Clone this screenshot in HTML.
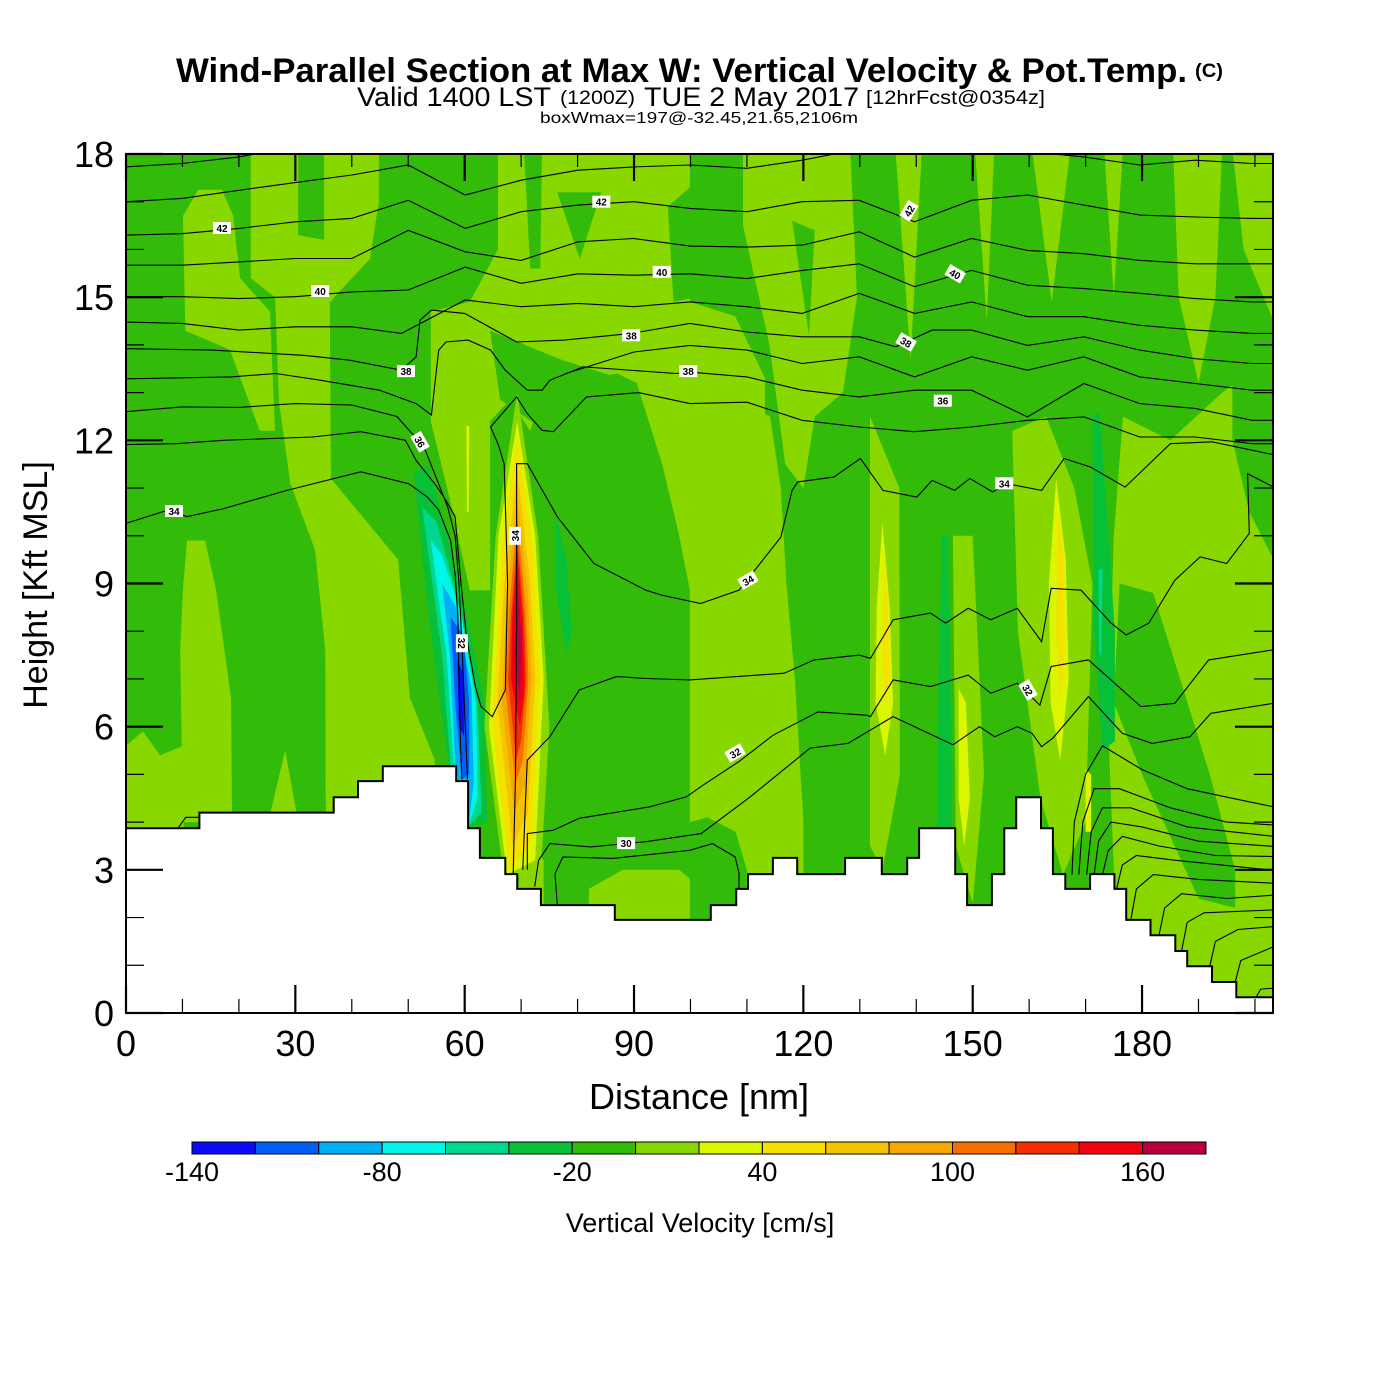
<!DOCTYPE html>
<html><head><meta charset="utf-8"><title>Wind-Parallel Section</title>
<style>
html,body{margin:0;padding:0;background:#fff;}
svg{display:block;font-family:"Liberation Sans",Arial,sans-serif;}
</style></head>
<body>
<svg id="chart" width="1400" height="1400" viewBox="0 0 1400 1400" xmlns="http://www.w3.org/2000/svg">
<rect x="0" y="0" width="1400" height="1400" fill="#fff"/>
<g>
<text x="176" y="82" font-size="34" font-weight="bold" textLength="1011" lengthAdjust="spacingAndGlyphs">Wind-Parallel Section at Max W: Vertical Velocity &amp; Pot.Temp.</text>
<text x="1195" y="77" font-size="19" font-weight="bold" textLength="28" lengthAdjust="spacingAndGlyphs">(C)</text>
<text x="357" y="106" font-size="27" textLength="194" lengthAdjust="spacingAndGlyphs">Valid 1400 LST</text>
<text x="560" y="104" font-size="19" textLength="75" lengthAdjust="spacingAndGlyphs">(1200Z)</text>
<text x="644" y="106" font-size="27" textLength="215" lengthAdjust="spacingAndGlyphs">TUE 2 May 2017</text>
<text x="866" y="104" font-size="19" textLength="179" lengthAdjust="spacingAndGlyphs">[12hrFcst@0354z]</text>
<text x="540" y="123" font-size="16" textLength="318" lengthAdjust="spacingAndGlyphs">boxWmax=197@-32.45,21.65,2106m</text>
</g>
<defs><clipPath id="plotclip"><rect x="126" y="154" width="1147" height="859"/></clipPath></defs>
<g id="field" clip-path="url(#plotclip)"></g>
<g id="contours" clip-path="url(#plotclip)"></g>
<g id="terrain"></g>
<g id="labels"></g>
<g id="axes"></g>
<g id="colorbar"></g>
</svg>
<script>
// ---------- data ----------
const palette = ["#0a0af5","#0060f5","#00b0f5","#00f5e6","#00d890","#08c038","#33bb0a","#88d800","#dcf500","#f5e000","#f5c400","#f5a800","#f57000","#f53000","#f00010","#b80040"];
const colorbarTicks = [-140,-80,-20,40,100,160];
const xTicks = [0,30,60,90,120,150,180];
const yTicks = [0,3,6,9,12,15,18];
const terrainSteps = [[0,13.0,3.87],[13.0,36.8,4.2],[36.8,41.1,4.52],[41.1,45.5,4.86],[45.5,58.5,5.17],[58.5,60.6,4.86],[60.6,62.7,3.87],[62.7,67.2,3.25],[67.2,69.3,2.91],[69.3,73.5,2.6],[73.5,86.6,2.26],[86.6,103.6,1.95],[103.6,108.1,2.26],[108.1,110.2,2.6],[110.2,114.6,2.91],[114.6,118.9,3.25],[118.9,127.4,2.91],[127.4,133.9,3.25],[133.9,138.4,2.91],[138.4,140.5,3.25],[140.5,146.9,3.87],[146.9,149.0,2.91],[149.0,153.4,2.26],[153.4,155.6,2.91],[155.6,157.7,3.87],[157.7,162.1,4.52],[162.1,164.2,3.87],[164.2,166.4,2.91],[166.4,170.8,2.6],[170.8,175.1,2.91],[175.1,177.2,2.6],[177.2,181.5,1.95],[181.5,185.9,1.63],[185.9,188.0,1.3],[188.0,192.4,0.98],[192.4,196.7,0.65],[196.7,203.2,0.33]];
const fieldLight = [
 [[12.8,17.25],[17.0,17.25],[19.0,16.7],[20.2,15.4],[25.5,14.7],[26.4,12.2],[23.7,12.2],[18.4,13.9],[10.5,14.3],[10.1,16.7]],
 [[10.8,9.9],[14.0,9.9],[15.9,8.9],[18.6,6.6],[18.8,4.0],[10.1,4.0],[9.6,7.6],[10.1,8.9]],
 [[0,5.6],[3,5.9],[6,5.4],[10.2,5.6],[10.2,3.5],[0,3.5]],
 [[25.2,4.0],[28.2,5.5],[30.5,4.0]],
 [[22.1,18.1],[30.5,18.1],[30.5,16.3],[35.1,16.2],[35.1,18.1],[44.8,18.1],[44.8,17.0],[43.2,15.8],[36.1,14.9],[36.3,11.2],[48.2,9.5],[50.3,6.6],[54.7,5.3],[54.7,4.0],[35.4,4.0],[35.3,7.6],[33.5,9.7],[29.1,11.1],[27.1,12.8],[26.4,15.0],[22.1,15.4]],
 [[65.9,18.1],[99.9,18.1],[99.9,14.9],[107.9,14.6],[113.2,13.3],[113.2,8.86],[99.9,8.86],[98,10],[95,11.5],[90.5,13.2],[87,13.4],[82.2,13.3],[76.9,13.5],[73.4,12.85],[71.6,12.2],[68.0,12.85],[64.5,12.4],[64.5,8.86],[60.9,8.86],[57.4,10.75],[54.0,12.4],[54.0,14.7],[60.9,14.9],[65.9,16]],
 [[109.3,18.1],[128.3,18.1],[129.5,15],[127,13],[122,12.5],[120,11],[116.8,11.5],[114,14],[109.3,16.5]],
 [[99.9,13.2],[105,13],[114.1,12.5],[116,11],[117,9],[118.5,7],[120,4],[120,1.5],[99.9,1.5],[99.9,8.86]],
 [[136.3,18.1],[141,18.1],[139,13.7]],
 [[131.8,12.5],[137,11],[137.1,5],[134,3.0],[131.8,3.5]],
 [[150.4,18.1],[153.8,18.1],[152.5,14.5]],
 [[146.5,10],[150,10],[152,5],[150,2.3],[147,3.5]],
 [[160.5,18.1],[167.3,18.1],[164,14.9]],
 [[157,12.2],[163,12.5],[168,11],[171.2,9],[170,4],[166,2.9],[162,4.5],[158,8]],
 [[173.3,18.1],[176.6,18.1],[175,15]],
 [[185.5,18.1],[194.2,18.1],[193,15],[190,13.2],[186.5,15]],
 [[176.6,12.5],[185,12],[194.2,13],[200.2,13.5],[203.3,13],[203.3,0],[176,0],[174,6],[175,10]],
 [[82,2.6],[88,3.0],[98,3.0],[104,2.4],[104,1.5],[82,1.5]],
 [[70,3.8],[74,3.2],[74,2.0],[69.3,2.0]],
 [[196,18.1],[203.3,18.1],[203.3,14.5],[198,16]]
];
const fieldDark = [
 [[44.8,18.1],[64.5,18.1],[65.9,17.0],[60.9,15.8],[57.9,14.9],[52.1,14.9],[48.5,16.0]],
 [[70.5,18.1],[73.7,18.1],[73.4,15.6],[71.6,15.6]],
 [[76.4,17.2],[84.2,17.2],[80.4,15.8]],
 [[96,16.9],[99.9,17.3],[101,15],[97,14.9]],
 [[64.5,14.3],[76.9,13.7],[87.5,13.3],[89.3,12.4],[84,12.2],[74.2,12.2],[66.3,12.85]],
 [[118,16.6],[122,16.4],[121,14.2]],
 [[99.9,4.0],[103,4.1],[108,3.8],[110,3],[110,1.5],[99.9,1.5]],
 [[176,9],[182,8.8],[192,5],[196.5,3],[196.5,2.2],[190,2.4],[180,5],[175,6.5]],
 [[196,14.5],[203.3,14.5],[203.3,9.5],[199,10.5],[196,12]]
];
const fieldMedGreen = [
 [[76.2,10.4],[78,9.5],[79,8],[78,7.5],[76,9]],
 [[144.5,10],[145.5,10],[146.4,5],[146,3],[143.8,3],[143.8,6]],
 [[171.2,12.5],[172.5,12.6],[175.2,8],[175.2,5.7],[173,5.5],[171.5,8]]
];
const fieldTeal = [[[172.3,9.3],[173,9.3],[172.8,7.5],[172.4,7.5]]];
const fieldYellowGreen = [
 [[134.0,10.3],[135.3,8.5],[135.9,6.5],[134.5,5.4],[132.8,6.5],[133,8.5]],
 [[164.8,11.2],[166.5,9.5],[167,7],[165.5,5.3],[163.8,6.5],[163.5,9]],
 [[147.5,6.8],[148.8,6.5],[149.5,4.5],[148.5,3.5],[147.5,4.5]],
 [[170,5.1],[171,5.0],[171,3.8],[170,3.8]],
 [[60.3,12.3],[60.8,12.3],[60.7,10.5],[60.4,10.5]]
];
const fieldYellow = [
 [[134.3,9.5],[135,8.5],[135.2,7],[134.5,6.5],[134,7.5]],
 [[165.2,10.5],[166,9.5],[166.3,7.5],[165.5,6.5],[164.8,8]]
];
// downdraft rings (outer -> inner) with palette bin index
const downdraftBins = [5,4,3,2,1,0];
const downdraftRings = [
 [[51,11.3],[53.5,11.5],[57,10],[61,8],[63.5,6.5],[64,4],[60.6,3.9],[57.5,4.9],[55,7],[52.5,9.5]],
 [[52.5,10.6],[55,10.3],[58.5,8.8],[62.3,6.5],[63,4.2],[60.6,3.9],[57.5,5.2],[56,7.5],[53.5,9.7]],
 [[54,9.9],[56,9.6],[59.5,8.3],[62,6.5],[62.3,4.5],[60.6,3.9],[58,5.3],[56.8,7.5],[55,9]],
 [[56,9.0],[58.5,8.5],[61.2,6.8],[61.6,4.8],[60.6,3.9],[58.3,5.2],[57.4,7.5]],
 [[57.5,8.3],[59.8,7.9],[60.8,6.5],[60.8,5.0],[59.5,4.9],[58.3,6.5]],
 [[58.7,7.4],[59.8,7.1],[59.9,5.8],[59,6.0]]
];
const updraftBins = [7,8,9,10,11,12,13,14,15];
const updraftRings = [
 [[69.3,13.0],[73,10],[75,6],[73.5,3],[67,2.8],[63.5,6],[65.5,10]],
 [[69.3,12.4],[72.5,10],[74,7],[72.5,3.2],[67.5,2.9],[64.3,6],[66,10]],
 [[69.3,12.0],[72,9.8],[73.2,7],[71.8,3.6],[68,3.0],[65,6],[66.6,9.8]],
 [[69.3,11.4],[71.6,9],[72.5,7],[71.2,4.2],[68.5,3.5],[65.8,6.5],[67,9]],
 [[69.3,10.8],[71.2,8.8],[71.8,7],[70.7,4.8],[68.8,4.2],[66.6,6.5],[67.5,8.8]],
 [[69.3,10.4],[70.8,8.5],[71.3,7],[70.3,5.3],[69,4.8],[67.2,6.8],[67.9,8.5]],
 [[69.3,10.0],[70.5,8.3],[70.9,7],[70,5.7],[69.1,5.3],[67.7,7],[68.2,8.3]],
 [[69.3,9.7],[70.3,8.2],[70.6,6.8],[69.8,6],[68.2,7],[68.4,8.2]],
 [[69.4,9.0],[70.1,7.8],[69.8,6.5],[68.8,7.5]]
];
// potential temperature contours [distance nm, height kft]
const thetaLines = [
 [[0,17.73],[9.9,17.8],[20,17.94],[30,18.15]],
 [[0,17.0],[9.9,17.07],[20,17.24],[30,17.4],[40,17.56],[50,17.77],[60.1,17.14],[70,17.45],[80.1,17.66],[90,17.73],[99.9,17.77],[110,17.7],[119.8,17.87],[129.9,18.1],[139.7,18.15],[149.8,18.1],[159.7,18.05],[169.7,17.94],[179.6,17.77],[189.4,17.87],[199.5,17.8],[203.3,17.8]],
 [[0,16.3],[9.9,16.33],[20,16.44],[30,16.58],[40,16.65],[50,17.03],[60.1,16.44],[70,16.79],[80.1,16.93],[90,17.0],[99.9,16.86],[110,16.79],[119.8,17.0],[129.9,17.03],[139.7,16.58],[149.8,17.03],[159.7,17.14],[169.7,16.93],[179.6,16.72],[189.4,16.68],[199.5,16.65],[203.3,16.65]],
 [[0,15.67],[9.9,15.67],[20,15.74],[30,15.81],[40,15.81],[50,16.4],[60.1,15.95],[70,15.77],[80.1,16.16],[90,16.23],[99.9,16.07],[110,16.05],[119.8,16.09],[129.9,16.37],[139.7,15.84],[149.8,16.23],[159.7,15.98],[169.7,15.91],[179.6,15.77],[189.4,15.7],[199.5,15.7],[203.3,15.7]],
 [[0,15.01],[9.9,15.01],[20,14.97],[30,15.01],[40,15.11],[50,15.15],[60.1,15.63],[70,15.29],[80.1,15.49],[90,15.46],[99.9,15.49],[110,15.39],[119.8,15.56],[129.9,15.7],[139.7,15.22],[149.8,15.56],[159.7,15.25],[169.7,15.18],[179.6,15.08],[189.4,14.97],[199.5,14.9],[203.3,14.9]],
 [[0,14.48],[9.9,14.45],[20,14.31],[30,14.38],[40,14.38],[48.8,14.24],[60.1,14.94],[70,14.8],[80.1,14.87],[90,14.8],[99.9,14.9],[110,14.8],[119.8,14.66],[129.9,15.08],[139.7,14.66],[149.8,14.9],[159.7,14.59],[169.7,14.59],[179.6,14.41],[189.4,14.31],[199.5,14.24],[203.3,14.24]],
 [[0,13.92],[15.3,13.89],[31.7,13.78],[39.6,13.68],[48.8,13.47],[51.4,13.75],[52.1,14.52],[54.1,14.73],[60,14.66],[69.2,14.06],[77.7,14.1],[89.5,14.24],[99.9,14.45],[110,14.27],[119.8,14.17],[129.9,14.17],[136.4,13.96],[142.8,14.31],[149.8,14.31],[159.7,13.99],[169.7,14.17],[179.6,13.89],[189.4,13.71],[199.5,13.61],[203.3,13.61]],
 [[78,13.4],[90,13.85],[99.9,13.99],[110,13.89],[119.8,13.61],[129.9,13.75],[139.7,13.33],[149.8,13.75],[159.7,13.47],[169.7,13.75],[179.6,13.33],[189.4,13.19],[199.5,13.05],[203.3,13.05]],
 [[0,13.29],[18.6,13.33],[26.5,13.4],[34.4,13.26],[44.9,13.05],[51.4,12.77],[54.1,12.53],[55.4,13.89],[56.7,14.06],[60.6,14.1],[64.6,13.89],[67.2,13.47],[71.1,13.05],[73.7,13.05],[75.1,13.26],[81,13.54],[97.4,13.4],[99.9,13.43],[110,13.33],[119.8,13.05],[129.9,12.91],[139.7,13.05],[149.8,13.05],[159.7,12.49],[169.7,13.19],[179.6,12.77],[189.4,12.67],[199.5,12.42],[203.3,12.42]],
 [[0,12.6],[9.9,12.7],[20,12.69],[30,12.77],[40,12.74],[48,12.5],[51,12.1],[52.5,11.95],[55,11.2],[57,10.6],[58.3,10.0],[59.0,9.0],[59.5,7.75],[60,6.3],[60.5,4.9]],
 [[0,11.91],[8.8,11.93],[17.3,12.0],[33,12.07],[41.6,12.18],[49.5,12.0],[51.4,11.58],[54.7,11.09],[56.7,10.74],[58.3,10.4],[59.3,9.07],[60.3,7.9],[61.9,6.84],[62.9,6.42],[64.9,6.21],[67.2,6.77],[67.6,9.0],[67.0,11.5],[66.0,11.9],[64.6,12.28],[69.2,12.91],[71.1,12.56],[73.7,12.21],[75.7,12.18],[81.6,12.91],[90.8,13.0],[99.9,12.77],[110,12.8],[119.8,12.42],[129.9,12.28],[139.7,12.18],[149.8,12.28],[159.7,12.42],[169.7,12.49],[179.6,12.07],[189.4,12.07],[199.5,11.93],[203.3,11.93]],
 [[0,10.26],[7.5,10.54],[10.8,10.4],[17.3,10.57],[28.5,10.95],[41.6,11.34],[50.1,11.09],[53.4,10.81],[55.4,10.54],[57.5,9.9],[58.3,9.2],[58.8,8.3],[59.0,7.0],[59.3,5.5],[59.5,4.9]],
 [[68.6,2.9],[69.0,5.0],[69.2,8.0],[69.2,11.51],[71.1,11.51],[76.4,10.4],[82.9,9.42],[92.1,8.86],[94.8,8.76],[101.8,8.58],[108.6,8.86],[116,9.97],[118,10.95],[119,11.13],[125.4,11.23],[130.1,11.62],[134.1,10.95],[140.1,10.81],[142.8,11.16],[146.8,10.95],[149.5,11.2],[153.5,10.92],[156.2,11.09],[162.2,10.95],[166.2,11.62],[170.9,11.44],[177,11.02],[185,11.93],[192.4,11.97],[203.3,11.7]],
 [[70.3,3.0],[70.8,4.5],[71.1,5.3],[75.1,5.79],[80.3,6.77],[86.9,7.05],[92.1,7.01],[99.9,6.98],[116.6,7.12],[121.9,7.4],[129.9,7.5],[131.9,7.43],[135.9,8.24],[142.5,8.38],[145.2,8.17],[149.2,8.48],[153.2,8.24],[157.9,8.48],[162.2,7.78],[163.9,8.9],[169.2,8.86],[174.5,8.17],[177.2,7.92],[181.2,8.17],[185.8,9.07],[190.3,9.56],[195,9.42],[199,10.05],[198.7,11.3],[203.3,11.02]],
 [[71.1,3.0],[71.1,3.76],[75.7,3.83],[80.3,4.08],[92.8,4.32],[99.3,4.53],[101.8,4.74],[108.6,5.27],[114.6,5.82],[122.6,6.31],[131.2,6.24],[131.9,6.21],[135.9,6.98],[142.5,6.84],[149.2,7.08],[153.2,6.7],[157.9,6.91],[161.9,6.45],[163.9,7.26],[170.5,7.4],[179.8,6.42],[185.8,6.49],[191.8,7.4],[203.3,7.61]],
 [[72.4,2.65],[73.1,3.2],[75.1,3.55],[82.3,3.48],[92.1,3.59],[101.9,3.76],[110.6,4.53],[121.2,5.55],[127.9,5.65],[135.9,6.21],[146.5,5.62],[151.2,6.0],[153.9,5.79],[157.9,6.0],[160.5,5.86],[162.2,5.58],[164.2,5.76],[170.5,6.63],[176.5,5.86],[181.8,5.65],[188.5,5.79],[192.2,6.28],[203.3,6.49]],
 [[76.4,2.26],[76.0,2.92],[77.4,3.27],[86.2,3.24],[99.9,3.41],[103.9,3.55],[107.9,3.27],[108.6,2.93],[108.6,2.3]],
 [[9.2,3.87],[10.6,4.1],[13,4.1]],
 [[167.6,2.9],[168,4.0],[170,5.0],[173,5.6],[180,5.1],[188,4.7],[196,4.5],[203.3,4.32]],
 [[168.8,2.9],[169.5,4.0],[171.5,4.7],[176,4.7],[185,4.3],[195,4.0],[203.3,3.94]],
 [[170.2,2.9],[171,3.8],[173,4.3],[178,4.3],[188,3.9],[203.3,3.7]],
 [[171.5,2.9],[172.3,3.6],[174.5,4.0],[180,3.9],[190,3.6],[203.3,3.49]],
 [[173,2.9],[174,3.4],[176.5,3.7],[183,3.5],[193,3.3],[203.3,3.28]],
 [[175.5,2.6],[176.5,3.1],[179,3.3],[186,3.2],[203.3,2.99]],
 [[178,1.95],[179,2.6],[182,2.9],[190,2.8],[203.3,2.72]],
 [[183,1.63],[184,2.2],[187,2.5],[195,2.4],[203.3,2.47]],
 [[187,1.3],[188,1.9],[191,2.1],[203.3,2.16]],
 [[192,0.98],[193,1.5],[197,1.75],[203.3,1.81]],
 [[196.5,0.65],[197.5,1.1],[203.3,1.39]],
 [[200.2,0.33],[201,0.5],[203.3,0.52]]
];
const labelText = ["42","42","42","40","40","40","38","38","38","38","36","36","34","34","34","34","32","32","32","30"];
const labelPos = [[17.0,16.45],[84.2,17.0],[138.7,16.81],[34.4,15.13],[94.9,15.53],[146.9,15.49],[49.6,13.45],[89.5,14.2],[99.6,13.45],[138.2,14.06],[52.1,11.97],[144.7,12.83],[8.5,10.52],[68.9,10.0],[110.2,9.07],[155.6,11.1],[59.5,7.75],[107.9,5.45],[159.8,6.77],[88.6,3.56]];
const labelAngle = [0,0,-60,0,0,30,0,0,0,30,60,0,0,-90,-30,0,90,-30,60,0];

// ---------- axes ----------
const NS = "http://www.w3.org/2000/svg";
const X0 = 126, X1 = 1273, Y0 = 1013, Y1 = 154, DMAX = 203.2, HMAX = 18;
const X = d => X0 + d * (X1 - X0) / DMAX;
const Y = h => Y0 - h * (Y0 - Y1) / HMAX;
const mk = (tag, parent) => { const e = document.createElementNS(NS, tag); parent.appendChild(e); return e; };
const ptsStr = pts => pts.map(p => X(p[0]).toFixed(1) + "," + Y(p[1]).toFixed(1)).join(" ");

const field = document.getElementById("field");
const base = mk("rect", field);


base.setAttribute("x", X0); base.setAttribute("y", Y1); base.setAttribute("width", X1 - X0); base.setAttribute("height", Y0 - Y1);
base.setAttribute("fill", palette[6]);

function drawSet(set, color, name) {
  set.forEach(pts => {
    const p = mk("polygon", field);
    
    
    p.setAttribute("points", ptsStr(pts));
    p.setAttribute("fill", color);
  });
}
drawSet(fieldLight, palette[7], "weak-updraft-region");
drawSet(fieldDark, palette[6], "weak-downdraft-region");
drawSet(fieldMedGreen, palette[5], "downdraft-band");
drawSet(fieldTeal, palette[4], "downdraft-core");
drawSet(fieldYellowGreen, palette[8], "updraft-band");
drawSet(fieldYellow, palette[9], "updraft-core");
downdraftRings.forEach((pts, i) => {
  const p = mk("polygon", field);
  
  
  p.setAttribute("points", ptsStr(pts));
  p.setAttribute("fill", palette[downdraftBins[i]]);
});
updraftRings.forEach((pts, i) => {
  const p = mk("polygon", field);
  
  
  p.setAttribute("points", ptsStr(pts));
  p.setAttribute("fill", palette[updraftBins[i]]);
});

// contours
const cg = document.getElementById("contours");
thetaLines.forEach(line => {
  const pl = mk("polyline", cg);
  
  
  pl.setAttribute("points", ptsStr(line));
  pl.setAttribute("fill", "none");
  pl.setAttribute("stroke", "#000");
  pl.setAttribute("stroke-width", "1.1");
});

// terrain
const tg = document.getElementById("terrain");
const tpts = [[0, 0]];
terrainSteps.forEach(s => { tpts.push([s[0], s[2]]); tpts.push([s[1], s[2]]); });
tpts.push([DMAX, 0]);
const tp = mk("polygon", tg);


tp.setAttribute("points", ptsStr(tpts));
tp.setAttribute("fill", "#fff");
tp.setAttribute("stroke", "#000");
tp.setAttribute("stroke-width", "2");

// contour labels
const lg = document.getElementById("labels");
labelText.forEach((t, i) => {
  const g = mk("g", lg);
  
  
  g.setAttribute("transform", "translate(" + X(labelPos[i][0]).toFixed(1) + "," + Y(labelPos[i][1]).toFixed(1) + ") rotate(" + labelAngle[i] + ")");
  const r = mk("rect", g);
  r.setAttribute("x", -9); r.setAttribute("y", -6); r.setAttribute("width", 18); r.setAttribute("height", 12); r.setAttribute("fill", "#fff");
  const tx = mk("text", g);
  tx.setAttribute("x", 0); tx.setAttribute("y", 4); tx.setAttribute("text-anchor", "middle");
  tx.setAttribute("font-size", "10"); tx.setAttribute("font-weight", "bold");
  tx.textContent = t;
});

// axes frame and ticks
const ag = document.getElementById("axes");
const frame = mk("rect", ag);


frame.setAttribute("x", X0); frame.setAttribute("y", Y1); frame.setAttribute("width", X1 - X0); frame.setAttribute("height", Y0 - Y1);
frame.setAttribute("fill", "none"); frame.setAttribute("stroke", "#000"); frame.setAttribute("stroke-width", "2");
function tick(x1, y1, x2, y2, w) {
  const l = mk("line", ag);
  
  
  l.setAttribute("x1", x1); l.setAttribute("y1", y1); l.setAttribute("x2", x2); l.setAttribute("y2", y2);
  l.setAttribute("stroke", "#000"); l.setAttribute("stroke-width", w);
}
for (let h = 0; h <= 18; h++) {
  const major = h % 3 === 0;
  const len = major ? 37 : 18;
  tick(X0, Y(h), X0 + len, Y(h), major ? 2.2 : 1.2);
  tick(X1, Y(h), X1 - (major ? 38 : 19), Y(h), major ? 2.2 : 1.2);
}
for (let d = 0; d <= 200; d += 10) {
  const major = d % 30 === 0;
  tick(X(d), Y0, X(d), Y0 - (major ? 28 : 14), major ? 2.2 : 1.2);
  tick(X(d), Y1, X(d), Y1 + (major ? 27 : 13), major ? 2.2 : 1.2);
}
yTicks.forEach(v => {
  const t = mk("text", ag);
  
  
  t.setAttribute("x", 114); t.setAttribute("y", Y(v) + 13);
  t.setAttribute("text-anchor", "end"); t.setAttribute("font-size", "36");
  t.textContent = v;
});
xTicks.forEach(v => {
  const t = mk("text", ag);
  
  
  t.setAttribute("x", X(v)); t.setAttribute("y", 1056);
  t.setAttribute("text-anchor", "middle"); t.setAttribute("font-size", "36");
  t.textContent = v;
});
const xt = mk("text", ag);


xt.setAttribute("x", 699); xt.setAttribute("y", 1109); xt.setAttribute("text-anchor", "middle"); xt.setAttribute("font-size", "36");
xt.textContent = "Distance [nm]";
const yt = mk("text", ag);


yt.setAttribute("transform", "translate(47,585) rotate(-90)"); yt.setAttribute("text-anchor", "middle"); yt.setAttribute("font-size", "34");
yt.textContent = "Height [Kft MSL]";

// colorbar
const cb = document.getElementById("colorbar");
const CB0 = 192, CB1 = 1206, CBY = 1142, CBH = 12;
const binW = (CB1 - CB0) / palette.length;
palette.forEach((c, i) => {
  const r = mk("rect", cb);
  
  
  r.setAttribute("x", CB0 + i * binW); r.setAttribute("y", CBY); r.setAttribute("width", binW); r.setAttribute("height", CBH);
  r.setAttribute("fill", c); r.setAttribute("stroke", "#000"); r.setAttribute("stroke-width", "1");
});
colorbarTicks.forEach(v => {
  const t = mk("text", cb);
  
  
  t.setAttribute("x", CB0 + (v + 140) / 20 * binW); t.setAttribute("y", 1181);
  t.setAttribute("text-anchor", "middle"); t.setAttribute("font-size", "27");
  t.textContent = v;
});
const cbt = mk("text", cb);


cbt.setAttribute("x", 700); cbt.setAttribute("y", 1232); cbt.setAttribute("text-anchor", "middle"); cbt.setAttribute("font-size", "27");
cbt.textContent = "Vertical Velocity [cm/s]";
</script>
</body></html>
